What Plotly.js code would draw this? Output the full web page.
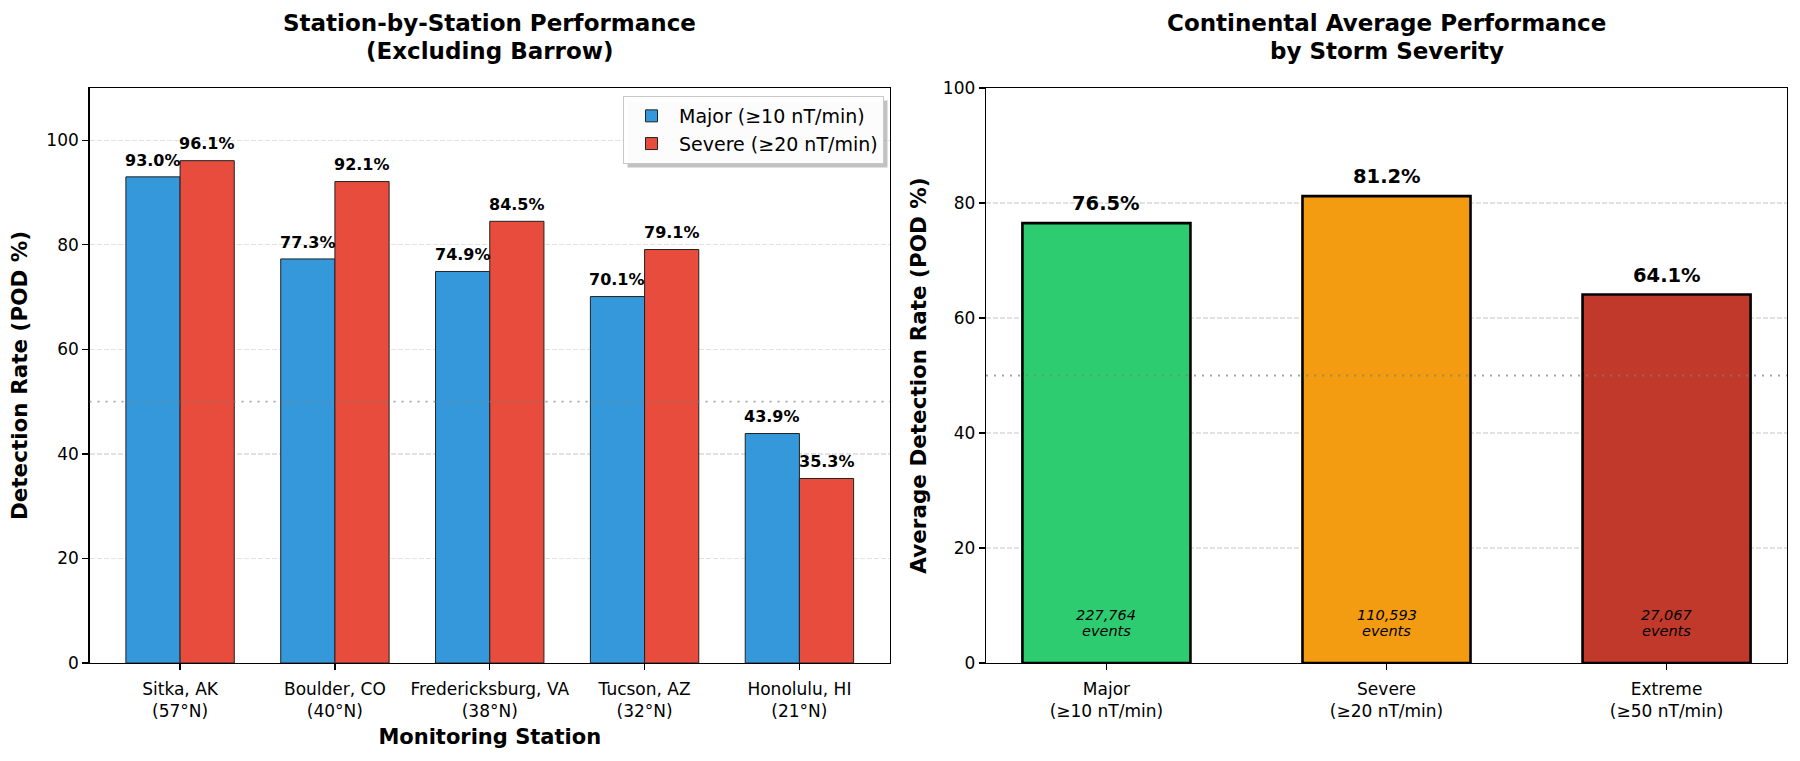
<!DOCTYPE html>
<html>
<head>
<meta charset="utf-8">
<script src="https://cdn.plot.ly/plotly-3.0.1.min.js"></script>
<style>
  html, body { margin: 0; padding: 0; background: #ffffff; }
  #chart { width: 1800px; height: 761px; }
</style>
</head>
<body>
<div id="chart"></div>
<script>
// ---------------- data ----------------
const stations = ['Sitka, AK', 'Boulder, CO', 'Fredericksburg, VA', 'Tucson, AZ', 'Honolulu, HI'];
const latitudes = ['57°N', '40°N', '38°N', '32°N', '21°N'];
const majorPOD = [93.0, 77.3, 74.9, 70.1, 43.9];
const severePOD = [96.1, 92.1, 84.5, 79.1, 35.3];

const severityNames = ['Major', 'Severe', 'Extreme'];
const severityThresholds = ['≥10 nT/min', '≥20 nT/min', '≥50 nT/min'];
const avgPOD = [76.5, 81.2, 64.1];
const eventCounts = [227764, 110593, 27067];

const leftTitle = ['Station-by-Station Performance', '(Excluding Barrow)'];
const rightTitle = ['Continental Average Performance', 'by Storm Severity'];

const leftTicks = [0, 20, 40, 60, 80, 100];
const rightTicks = [0, 20, 40, 60, 80, 100];

// ---------------- style ----------------
const FONT = 'DejaVu Sans, Verdana, sans-serif';
const W = 1800, H = 761;
const halfW = 0.35 / 2;

const stationIdx = stations.map((_, i) => i);
const severityIdx = severityNames.map((_, i) => i);

const traces = [
  {
    type: 'bar', name: 'Major (≥10 nT/min)',
    x: stationIdx.map(i => i - halfW), y: majorPOD, width: 0.35,
    marker: { color: '#3498db', line: { color: '#222222', width: 1 } },
    xaxis: 'x', yaxis: 'y', hoverinfo: 'skip'
  },
  {
    type: 'bar', name: 'Severe (≥20 nT/min)',
    x: stationIdx.map(i => i + halfW), y: severePOD, width: 0.35,
    marker: { color: '#e74c3c', line: { color: '#222222', width: 1 } },
    xaxis: 'x', yaxis: 'y', hoverinfo: 'skip'
  },
  {
    type: 'bar', name: 'Continental average', showlegend: false,
    x: severityIdx, y: avgPOD, width: 0.6,
    marker: { color: ['#2ecc71', '#f39c12', '#c0392b'], line: { color: '#000000', width: 2.6 } },
    xaxis: 'x2', yaxis: 'y2', hoverinfo: 'skip'
  }
];

const annotations = [];
// left bar value labels
majorPOD.forEach((v, i) => annotations.push({
  xref: 'x', yref: 'y', x: i - halfW, y: v + 1, yanchor: 'bottom', xanchor: 'center', showarrow: false,
  text: '<b>' + v.toFixed(1) + '%</b>', font: { family: FONT, size: 16, color: '#000' }
}));
severePOD.forEach((v, i) => annotations.push({
  xref: 'x', yref: 'y', x: i + halfW, y: v + 1, yanchor: 'bottom', xanchor: 'center', showarrow: false,
  text: '<b>' + v.toFixed(1) + '%</b>', font: { family: FONT, size: 16, color: '#000' }
}));
// right bar value labels
avgPOD.forEach((v, i) => annotations.push({
  xref: 'x2', yref: 'y2', x: i, y: v + 1, yanchor: 'bottom', xanchor: 'center', showarrow: false,
  text: '<b>' + v.toFixed(1) + '%</b>', font: { family: FONT, size: 19.5, color: '#000' }
}));
// event counts (two lines, tight spacing)
eventCounts.forEach((n, i) => {
  annotations.push({
    xref: 'x2', yref: 'y2', x: i, y: 8.4, yanchor: 'middle', xanchor: 'center', showarrow: false,
    text: '<i>' + n.toLocaleString('en-US') + '</i>', font: { family: FONT, size: 14.5, color: '#000' }
  });
  annotations.push({
    xref: 'x2', yref: 'y2', x: i, y: 5.6, yanchor: 'middle', xanchor: 'center', showarrow: false,
    text: '<i>events</i>', font: { family: FONT, size: 14.5, color: '#000' }
  });
});
// subplot titles (two lines each)
const titleY = [23.5, 51];
[[leftTitle, (89.5 + 890) / 2], [rightTitle, (986 + 1787) / 2]].forEach(([lines, cx]) => {
  lines.forEach((t, k) => annotations.push({
    xref: 'paper', yref: 'paper', x: cx / W, y: 1 - titleY[k] / H,
    xanchor: 'center', yanchor: 'middle', showarrow: false,
    text: '<b>' + t + '</b>', font: { family: FONT, size: 23, color: '#000' }
  }));
});

const refLine = (xr, yr) => ({
  type: 'line', xref: xr + ' domain', yref: yr, x0: 0, x1: 1, y0: 50, y1: 50,
  line: { color: 'rgba(128,128,128,0.7)', width: 1.8, dash: '2px,6px' }, layer: 'above'
});

const axisCommon = {
  showline: true, mirror: true, linecolor: '#000', linewidth: 1.3,
  ticks: 'outside', ticklen: 6, tickwidth: 1.3, tickcolor: '#000',
  tickfont: { family: FONT, size: 17, color: '#000' },
  zeroline: false
};
const gridY = { showgrid: true, gridcolor: 'rgba(150,150,150,0.28)', gridwidth: 1.2, griddash: '5px,2px' };

const layout = {
  width: W, height: H,
  margin: { l: 0, r: 0, t: 0, b: 0 },
  paper_bgcolor: '#ffffff', plot_bgcolor: '#ffffff',
  font: { family: FONT, color: '#000' },
  barmode: 'overlay',
  showlegend: true,
  legend: {
    x: 884 / W, xanchor: 'right', y: 1 - 96 / H, yanchor: 'top',
    bgcolor: 'rgba(255,255,255,0.95)', bordercolor: '#c8c8c8', borderwidth: 1,
    itemwidth: 45,
    font: { family: FONT, size: 19, color: '#000' }
  },
  xaxis: Object.assign({}, axisCommon, {
    domain: [89.5 / W, 890 / W], anchor: 'y',
    range: [-0.585, 4.585], tickvals: stationIdx,
    ticktext: stations.map((s, i) => s + '<br>(' + latitudes[i] + ')'),
    ticklabelstandoff: 4,
    showgrid: false,
    title: { text: '<b>Monitoring Station</b>', font: { family: FONT, size: 21, color: '#000' }, standoff: 9 }
  }),
  yaxis: Object.assign({}, axisCommon, gridY, {
    domain: [1 - 663 / H, 1 - 88 / H], anchor: 'x',
    range: [0, 110], tickvals: leftTicks,
    title: { text: '<b>Detection Rate (POD %)</b>', font: { family: FONT, size: 21.5, color: '#000' }, standoff: 12 }
  }),
  xaxis2: Object.assign({}, axisCommon, {
    domain: [986 / W, 1787 / W], anchor: 'y2',
    range: [-0.43, 2.43], tickvals: severityIdx,
    ticktext: severityNames.map((s, i) => s + '<br>(' + severityThresholds[i] + ')'),
    ticklabelstandoff: 4,
    showgrid: false
  }),
  yaxis2: Object.assign({}, axisCommon, gridY, {
    domain: [1 - 663 / H, 1 - 88 / H], anchor: 'x2',
    range: [0, 100], tickvals: rightTicks,
    title: { text: '<b>Average Detection Rate (POD %)</b>', font: { family: FONT, size: 21.5, color: '#000' }, standoff: 10 }
  }),
  shapes: [refLine('x', 'y'), refLine('x2', 'y2')],
  annotations: annotations
};

Plotly.newPlot('chart', traces, layout, { displayModeBar: false, staticPlot: true }).then(gd => {
  // soft drop shadow behind the legend, as in the reference
  const bg = gd.querySelector('.legend .bg');
  if (!bg) return;
  const r = bg.getBoundingClientRect();
  const c = gd.getBoundingClientRect();
  const off = 4;
  const x0 = (r.left - c.left + off) / W, x1 = (r.right - c.left + off) / W;
  const y0 = 1 - (r.bottom - c.top + off) / H, y1 = 1 - (r.top - c.top + off) / H;
  const shapes = layout.shapes.concat([{
    type: 'rect', xref: 'paper', yref: 'paper', x0: x0, x1: x1, y0: y0, y1: y1,
    line: { width: 0 }, fillcolor: 'rgba(120,120,120,0.45)', layer: 'above'
  }]);
  Plotly.relayout(gd, { shapes: shapes });
});
</script>
</body>
</html>
